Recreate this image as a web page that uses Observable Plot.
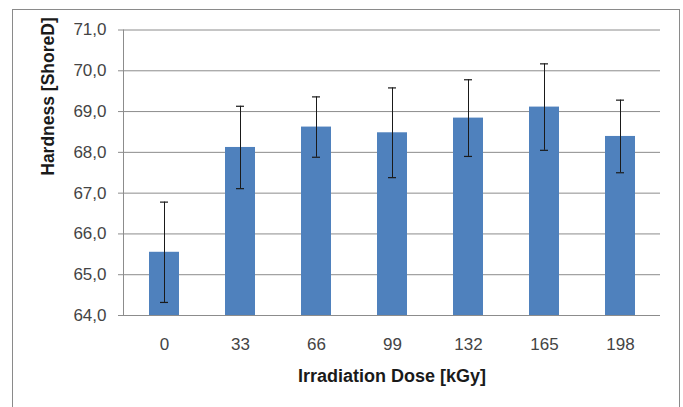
<!DOCTYPE html>
<html>
<head>
<meta charset="utf-8">
<script src="https://cdn.jsdelivr.net/npm/d3@7"></script>
<script src="https://cdn.jsdelivr.net/npm/@observablehq/plot@0.6"></script>
<style>
  html, body { margin: 0; padding: 0; background: #fff; overflow: hidden; }
  #wrap { position: relative; width: 683px; height: 407px; }
  #border { position: absolute; left: 12px; top: 9px; width: 668px; height: 420px; border: 1px solid #8a8a8a; box-sizing: border-box; }
  #chart { position: absolute; left: 0; top: 0; }
</style>
</head>
<body>
<div id="wrap"><div id="border"></div><div id="chart"></div></div>
<script>
const doses = ["0", "33", "66", "99", "132", "165", "198"];
const hardness = [65.55, 68.12, 68.62, 68.48, 68.84, 69.11, 68.39];
const errors = [1.23, 1.01, 0.74, 1.10, 0.94, 1.06, 0.89];
const yTicks = [64, 65, 66, 67, 68, 69, 70, 71];

const data = doses.map((d, i) => ({dose: d, h: hardness[i], lo: hardness[i] - errors[i], hi: hardness[i] + errors[i]}));
const fmt = d => d.toFixed(1).replace(".", ",");

const chart = Plot.plot({
  width: 683,
  height: 407,
  marginLeft: 123,
  marginRight: 23,
  marginTop: 29.5,
  marginBottom: 92,
  style: {fontFamily: "Liberation Sans, Arial, sans-serif", fontSize: "17px", color: "#444", background: "transparent"},
  x: {domain: doses, paddingInner: 0.61, paddingOuter: 0.305, label: null},
  y: {domain: [64, 71], label: null},
  marks: [
    Plot.ruleY(yTicks, {stroke: "#8c8c8c", strokeWidth: 1}),
    Plot.barY(data, {x: "dose", y1: 64, y2: "h", fill: "#4F81BD"}),
    Plot.ruleX(data, {x: "dose", y1: "lo", y2: "hi", stroke: "#1a1a1a", strokeWidth: 1}),
    Plot.tickY(data, {x: "dose", y: "hi", stroke: "#1a1a1a", strokeWidth: 1.2, inset: 11}),
    Plot.tickY(data, {x: "dose", y: "lo", stroke: "#1a1a1a", strokeWidth: 1.2, inset: 11}),
    Plot.axisY({ticks: yTicks, tickFormat: fmt, tickSize: 5, tickPadding: 12, stroke: "#8c8c8c", label: null, fill: "#444"}),
    Plot.axisX({tickSize: 0, tickPadding: 22, label: null, fill: "#444"}),
    Plot.frame({anchor: "left", stroke: "#8c8c8c"}),
    Plot.text(["Hardness [ShoreD]"], {frameAnchor: "left", dx: -75, dy: 3, rotate: -90, text: d => d, fontWeight: "bold", fontSize: 17.5, fill: "#1a1a1a"}),
    Plot.text(["Irradiation Dose [kGy]"], {frameAnchor: "bottom", dy: 66, text: d => d, fontWeight: "bold", fontSize: 18, fill: "#1a1a1a"})
  ]
});
document.getElementById("chart").appendChild(chart);
</script>
</body>
</html>
